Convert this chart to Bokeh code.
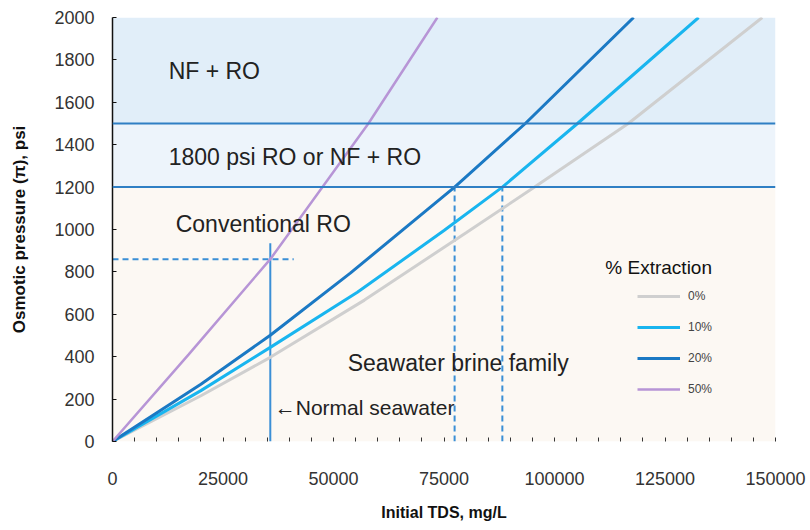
from bokeh.plotting import figure
from bokeh.models import (BoxAnnotation, Span, Legend, LegendItem,
                          NumeralTickFormatter, FixedTicker, Label, Range1d)
from bokeh.embed import file_html
from bokeh.resources import INLINE

# ---------------- data ----------------
extraction_labels = ["0%", "10%", "20%", "50%"]

tds_0 = [0, 20000, 35700, 57000, 80000, 95500, 116700, 147000]
pi_0 = [0, 216, 397, 667, 985, 1200, 1500, 2000]

tds_10 = [0, 20000, 35700, 55400, 75000, 88200, 105200, 132600]
pi_10 = [0, 240, 444, 704, 995, 1200, 1500, 2000]

tds_20 = [0, 20000, 35700, 53800, 77400, 93400, 117900]
pi_20 = [0, 270, 501, 794, 1200, 1500, 2000]

tds_50 = [0, 17200, 35700, 57900, 73500]
pi_50 = [0, 410, 860, 1500, 2000]

zone_bounds = [0, 1200, 1500, 2000]
zone_names = ["Conventional RO", "1800 psi RO or NF + RO", "NF + RO"]

seawater_tds = 35700
seawater_pi = 860
seawater_marker_top = 935
seawater_dash_end = 41000
brine_tds_20 = 77400
brine_tds_10 = 88200
brine_pi_limit = 1200

x_ticks = [0, 25000, 50000, 75000, 100000, 125000, 150000]
y_ticks = [0, 200, 400, 600, 800, 1000, 1200, 1400, 1600, 1800, 2000]

FONT = "Liberation Sans"

p = figure(width=810, height=530, output_backend="svg", toolbar_location=None,
           x_range=Range1d(0, 150000), y_range=Range1d(0, 2000),
           min_border_left=112, min_border_right=35, min_border_top=17,
           min_border_bottom=89)
p.outline_line_color = None
p.grid.visible = False
p.background_fill_color = "white"

# zone backgrounds
zone_colors = ["#fcf8f3", "#edf4fb", "#e1eef9"]
for lo, hi, c in zip(zone_bounds[:-1], zone_bounds[1:], zone_colors):
    p.add_layout(BoxAnnotation(bottom=lo, top=hi, fill_color=c, fill_alpha=1,
                               line_color=None, level="underlay"))

# zone boundaries
for b in zone_bounds[1:-1]:
    p.add_layout(Span(location=b, dimension="width", line_color="#2f7fc4",
                      line_width=2))

# reference markers
p.segment(x0=[0], y0=[seawater_pi], x1=[seawater_dash_end], y1=[seawater_pi],
          line_color="#3a8fd6", line_width=2, line_dash="6 4")
p.segment(x0=[seawater_tds], y0=[0], x1=[seawater_tds], y1=[seawater_marker_top],
          line_color="#3a8fd6", line_width=2)
p.segment(x0=[brine_tds_20, brine_tds_10], y0=[0, 0],
          x1=[brine_tds_20, brine_tds_10], y1=[brine_pi_limit, brine_pi_limit],
          line_color="#3a8fd6", line_width=2, line_dash="6 4")

# curves
r0 = p.line(tds_0, pi_0, line_color="#cfcfcf", line_width=3)
r10 = p.line(tds_10, pi_10, line_color="#19b5ef", line_width=3)
r20 = p.line(tds_20, pi_20, line_color="#1b79c4", line_width=3)
r50 = p.line(tds_50, pi_50, line_color="#b795d6", line_width=2.5)

# legend
items = [LegendItem(label=l, renderers=[r]) for l, r in
         zip(extraction_labels, [r0, r10, r20, r50])]
legend = Legend(items=items, location=(525, 38), background_fill_alpha=0,
                border_line_color=None, padding=0, margin=0,
                label_text_font_size="12px", label_text_font=FONT,
                glyph_width=43, glyph_height=28, label_height=28, spacing=3,
                label_standoff=8)
p.add_layout(legend)
p.add_layout(Label(x=111500, y=820, text="% Extraction", text_font=FONT,
                   text_font_size="19px", text_color="#111",
                   text_baseline="middle"))

# zone / annotation texts
zone_label_x = [14300, 12700, 12700]
zone_label_y = [1028, 1340, 1750]
for t, x, y in zip(zone_names, zone_label_x, zone_label_y):
    p.add_layout(Label(x=x, y=y, text=t, text_font=FONT, text_font_size="23px",
                       text_color="#222", text_baseline="middle"))
p.add_layout(Label(x=53200, y=368, text="Seawater brine family", text_font=FONT,
                   text_font_size="23px", text_color="#222",
                   text_baseline="middle"))
p.add_layout(Label(x=36700, y=160, text="\u2190Normal seawater", text_font=FONT,
                   text_font_size="21px", text_color="#222",
                   text_baseline="middle"))

# axes
xa = p.xaxis[0]
xa.ticker = FixedTicker(ticks=x_ticks, minor_ticks=list(range(0, 150001, 5000)))
xa.formatter = NumeralTickFormatter(format="0")
xa.axis_line_color = None
xa.major_tick_line_color = None
xa.minor_tick_in = 4
xa.minor_tick_out = 0
xa.minor_tick_line_color = "#333"
xa.major_label_standoff = 24
xa.major_label_text_font = FONT
xa.major_label_text_font_size = "18px"
xa.major_label_text_color = "#333"
xa.axis_label = "Initial TDS, mg/L"
xa.axis_label_text_font = FONT
xa.axis_label_text_font_style = "bold"
xa.axis_label_text_font_size = "16px"
xa.axis_label_text_color = "#111"
xa.axis_label_standoff = 16

ya = p.yaxis[0]
ya.ticker = FixedTicker(ticks=y_ticks)
ya.axis_line_color = "#111"
ya.axis_line_width = 1.5
ya.major_tick_in = 4
ya.major_tick_out = 0
ya.major_tick_line_color = "#111"
ya.minor_tick_line_color = None
ya.major_label_standoff = 18
ya.major_label_text_font = FONT
ya.major_label_text_font_size = "18px"
ya.major_label_text_color = "#333"
ya.axis_label = "Osmotic pressure (\u03c0), psi"
ya.axis_label_text_font = FONT
ya.axis_label_text_font_style = "bold"
ya.axis_label_text_font_size = "17px"
ya.axis_label_text_color = "#111"
ya.axis_label_standoff = 22

open("out.html", "w").write(file_html(p, INLINE))
